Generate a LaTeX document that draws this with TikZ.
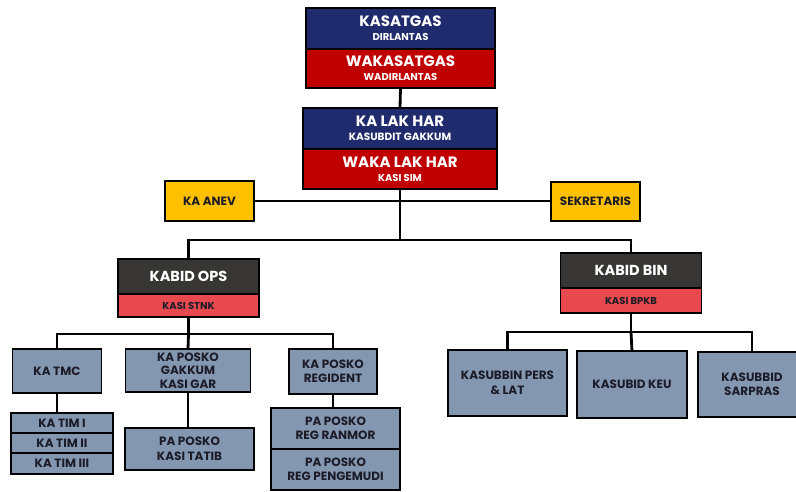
\documentclass[tikz,border=0pt]{standalone}
\usepackage{fontspec}
\setmainfont{Poppins}
\definecolor{navy}{HTML}{1F2B6C}
\definecolor{dred}{HTML}{C00000}
\definecolor{dgrey}{HTML}{383535}
\definecolor{lred}{HTML}{E8494E}
\definecolor{slate}{HTML}{8497B0}
\definecolor{gold}{HTML}{FFC000}
\definecolor{ink}{HTML}{1C1C28}
\begin{document}
\begin{tikzpicture}[x=1pt,y=-1pt,
  box/.style={draw=black,line width=1.8pt,inner sep=0pt,outer sep=0pt,align=center,font=\bfseries},
  titleblue/.style={box,fill=navy,text=white},
  titlered/.style={box,fill=dred,text=white},
  headgrey/.style={box,fill=dgrey,text=white,font=\bfseries\fontsize{14.5}{16}\selectfont},
  subred/.style={box,fill=lred,text=ink,font=\bfseries\fontsize{10}{11}\selectfont},
  unit/.style={box,fill=slate,text=ink,font=\bfseries\fontsize{12}{14.5}\selectfont},
  staff/.style={box,fill=gold,text=ink,font=\bfseries\fontsize{12}{13}\selectfont},
  conn/.style={draw=black,line width=2.8pt}]
\useasboundingbox (0,0) rectangle (796,491);
\fill[white] (0,0) rectangle (796,491);

% top blocks
\node[titleblue,minimum width=189pt,minimum height=41pt] (kasatgas) at (400.5,28.5)
  {\fontsize{15}{16}\selectfont KASATGAS\\[2pt]\fontsize{10}{11}\selectfont DIRLANTAS};
\node[titlered,minimum width=189pt,minimum height=39pt] (waka) at (400.5,68.5)
  {\fontsize{15}{16}\selectfont WAKASATGAS\\[2pt]\fontsize{10}{11}\selectfont WADIRLANTAS};
\node[titleblue,minimum width=194pt,minimum height=41pt] (kalak) at (400,128.5)
  {\fontsize{15}{16}\selectfont KA LAK HAR\\[2pt]\fontsize{10.5}{11}\selectfont KASUBDIT GAKKUM};
\node[titlered,minimum width=194pt,minimum height=40pt] (wakalak) at (400,169)
  {\fontsize{15}{16}\selectfont WAKA LAK HAR\\[2pt]\fontsize{10}{11}\selectfont KASI SIM};

% staff
\node[staff,minimum width=89pt,minimum height=40pt] (anev) at (209.5,201) {KA ANEV};
\node[staff,minimum width=89pt,minimum height=39pt] (sek) at (595.5,201.5) {SEKRETARIS};

% kabid
\node[headgrey,minimum width=141pt,minimum height=35pt] (ops) at (188.5,276.5) {KABID OPS};
\node[subred,minimum width=141pt,minimum height=23pt] (stnk) at (188.5,305.5) {KASI STNK};
\node[headgrey,minimum width=141pt,minimum height=35pt] (bin) at (631,270.5) {KABID BIN};
\node[subred,minimum width=141pt,minimum height=25pt] (bpkb) at (631,300.5) {KASI BPKB};

% ops units
\node[unit,minimum width=89pt,minimum height=44pt] (tmc) at (57,371) {KA TMC};
\node[unit,minimum width=125pt,minimum height=43pt,font=\bfseries\fontsize{12}{13.5}\selectfont] (gakkum) at (188,370.5) {KA POSKO\\GAKKUM\\KASI GAR};
\node[unit,minimum width=88pt,minimum height=45pt] (regident) at (333,371.5) {KA POSKO\\REGIDENT};
\node[unit,minimum width=102pt,minimum height=20pt] (tim1) at (62,423) {KA TIM I};
\node[unit,minimum width=102pt,minimum height=20pt] (tim2) at (62,443) {KA TIM II};
\node[unit,minimum width=102pt,minimum height=21pt] (tim3) at (62,463.5) {KA TIM III};
\node[unit,minimum width=129pt,minimum height=42pt] (tatib) at (189.5,449) {PA POSKO\\KASI TATIB};
\node[unit,minimum width=129pt,minimum height=41pt] (ranmor) at (335.5,428.5) {PA POSKO\\REG RANMOR};
\node[unit,minimum width=129pt,minimum height=41pt] (pengemudi) at (335.5,469.5) {PA POSKO\\REG PENGEMUDI};

% bin units
\node[unit,minimum width=119pt,minimum height=66pt] (pers) at (507.5,383) {KASUBBIN PERS\\\& LAT};
\node[unit,minimum width=110pt,minimum height=67pt] (keu) at (632,384.5) {KASUBID KEU};
\node[unit,minimum width=108pt,minimum height=65pt] (sarpras) at (752,384.5) {KASUBBID\\SARPRAS};

% connectors
\coordinate (hub) at (400,240);
\coordinate (opsbus) at (188.5,334);
\coordinate (binbus) at (631,332);
\draw[conn] (waka.south) -- (kalak.north);
\draw[conn] (wakalak.south) -- (hub);
\draw[conn] (anev.east) -- (anev.east -| sek.west);
\draw[conn] (ops.north) |- (hub) -| (bin.north);
\draw[conn] (stnk.south) -- (opsbus);
\draw[conn] (tmc.north) |- (opsbus) -| (regident.north);
\draw[conn] (opsbus) -- (gakkum.north);
\draw[conn] (tmc.south) -- (tmc.south |- tim1.north);
\draw[conn] (gakkum.south) -- (gakkum.south |- tatib.north);
\draw[conn] (regident.south) -- (regident.south |- ranmor.north);
\draw[conn] (bpkb.south) -- (binbus);
\draw[conn] (pers.north) |- (binbus) -| (sarpras.north);
\draw[conn] (binbus) -- (keu.north);
\end{tikzpicture}
\end{document}
